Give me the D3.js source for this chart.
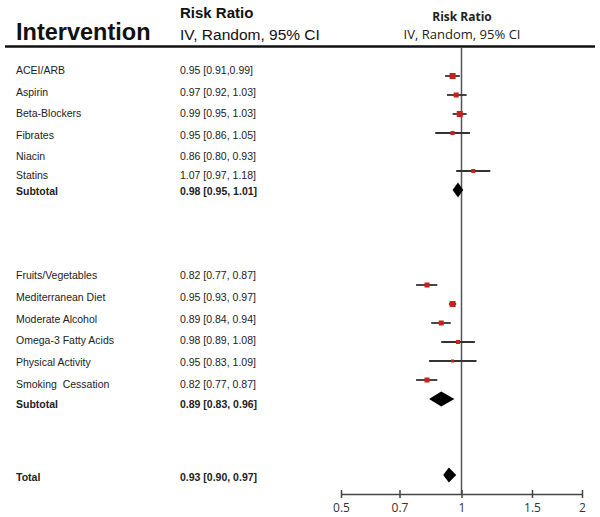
<!DOCTYPE html>
<html><head><meta charset="utf-8">
<script src="https://cdn.jsdelivr.net/npm/d3@7"></script>
<style>body{margin:0;background:#fff}svg{display:block}text{white-space:pre}</style>
</head><body><svg id="c" width="600" height="517"></svg>
<script>
// ---- data ----
const labels = ["ACEI/ARB","Aspirin","Beta-Blockers","Fibrates","Niacin","Statins","Subtotal",
  "Fruits/Vegetables","Mediterranean Diet","Moderate Alcohol","Omega-3 Fatty Acids","Physical Activity","Smoking  Cessation","Subtotal",
  "Total"];
const estimates = [0.95,0.97,0.99,0.95,0.86,1.07,0.98, 0.82,0.95,0.89,0.98,0.95,0.82,0.89, 0.93];
const lower     = [0.91,0.92,0.95,0.86,0.80,0.97,0.95, 0.77,0.93,0.84,0.89,0.83,0.77,0.83, 0.90];
const upper     = [0.99,1.03,1.03,1.05,0.93,1.18,1.01, 0.87,0.97,0.94,1.08,1.09,0.87,0.96, 0.97];
const ciText    = ["0.95 [0.91,0.99]","0.97 [0.92, 1.03]","0.99 [0.95, 1.03]","0.95 [0.86, 1.05]","0.86 [0.80, 0.93]","1.07 [0.97, 1.18]","0.98 [0.95, 1.01]",
  "0.82 [0.77, 0.87]","0.95 [0.93, 0.97]","0.89 [0.84, 0.94]","0.98 [0.89, 1.08]","0.95 [0.83, 1.09]","0.82 [0.77, 0.87]","0.89 [0.83, 0.96]",
  "0.93 [0.90, 0.97]"];
const rowKind   = ["study","study","study","study","study","study","pooled",
  "study","study","study","study","study","study","pooled","pooled"];
const weights   = [6,5,6,4,0,4,0, 5,6,5,4,3,5,0,0];   // relative marker weight
const plotted   = [1,1,1,1,0,1,1, 1,1,1,1,1,1,1,1];   // Niacin has no mark in the figure
const rowIndex  = [0,1,2,3,4,5,6, 11,12,13,14,15,16,17, 21];
const tickValues = [0.5,0.7,1,1.5,2];
const tickLabels = ["0.5","0.7","1","1.5","2"];

// ---- layout ----
const svg = d3.select("#c");
const x = d3.scaleLog().domain([0.5,2]).range([341,582]);
const yPlot = d3.scaleLinear().domain([0,21]).range([76,475]);
const yText = d3.scaleLinear().domain([0,4,5,6,11,15,16,17,21]).range([74,160,179,195,279,366,388,408,481]);
const sizeScale = d3.scaleLinear().domain([3,6]).range([3,6]);

const rows = labels.map((l,i)=>({label:l,est:estimates[i],lo:lower[i],hi:upper[i],txt:ciText[i],
  kind:rowKind[i],w:weights[i],show:plotted[i],idx:rowIndex[i]}));

// headers
svg.append("text").attr("x",16).attr("y",40).text("Intervention")
  .attr("font-family","Liberation Sans, Arial").attr("font-weight","bold").attr("font-size",23.5).attr("fill","#111");
svg.append("text").attr("x",180).attr("y",18).text("Risk Ratio")
  .attr("font-family","Liberation Sans, Arial").attr("font-weight","bold").attr("font-size",15).attr("fill","#111");
svg.append("text").attr("x",180).attr("y",40).text("IV, Random, 95% CI")
  .attr("font-family","Liberation Sans, Arial").attr("font-size",15.5).attr("fill","#111");
svg.append("text").attr("x",462).attr("y",21).attr("text-anchor","middle").text("Risk Ratio")
  .attr("font-family","Open Sans").attr("font-weight","bold").attr("font-size",12).attr("fill","#222");
svg.append("text").attr("x",462).attr("y",39).attr("text-anchor","middle").text("IV, Random, 95% CI")
  .attr("font-family","Open Sans").attr("font-size",12).attr("fill","#222").attr("textLength",117).attr("lengthAdjust","spacingAndGlyphs");
svg.append("line").attr("x1",5).attr("x2",595).attr("y1",46.5).attr("y2",46.5).attr("stroke","#111").attr("stroke-width",2.5);

// null line
svg.append("line").attr("x1",x(1)).attr("x2",x(1)).attr("y1",48).attr("y2",494)
  .attr("stroke","#555").attr("stroke-width",1.5);

// left text
const tg = svg.append("g").attr("font-family","Liberation Sans, Arial").attr("font-size",10.5).attr("fill","#222");
tg.selectAll("text.l").data(rows).join("text").attr("class","l")
  .attr("x",16).attr("y",d=>yText(d.idx)).text(d=>d.label)
  .attr("font-weight",d=>d.kind==="pooled"?"bold":"normal");
tg.selectAll("text.v").data(rows).join("text").attr("class","v")
  .attr("x",180).attr("y",d=>yText(d.idx)).text(d=>d.txt)
  .attr("font-weight",d=>d.kind==="pooled"?"bold":"normal");

// study marks
const studies = rows.filter(d=>d.kind==="study" && d.show);
svg.append("g").selectAll("line").data(studies).join("line")
  .attr("x1",d=>x(d.lo)).attr("x2",d=>x(d.hi)).attr("y1",d=>yPlot(d.idx)).attr("y2",d=>yPlot(d.idx))
  .attr("stroke","#333").attr("stroke-width",1.8);
svg.append("g").selectAll("rect").data(studies).join("rect")
  .attr("x",d=>x(d.est)-sizeScale(d.w)/2).attr("y",d=>yPlot(d.idx)-sizeScale(d.w)/2)
  .attr("width",d=>sizeScale(d.w)).attr("height",d=>sizeScale(d.w)).attr("fill","#c8201a");

// diamonds
const pooled = rows.filter(d=>d.kind==="pooled");
svg.append("g").selectAll("path").data(pooled).join("path")
  .attr("d",d=>{const y=yPlot(d.idx),h=7.5;return `M${x(d.lo)},${y}L${x(d.est)},${y-h}L${x(d.hi)},${y}L${x(d.est)},${y+h}Z`;})
  .attr("fill","#000");

// axis
const ax = svg.append("g").attr("transform","translate(0,494)")
  .call(d3.axisBottom(x).tickValues(tickValues).tickFormat((d,i)=>tickLabels[i]).tickSize(0));
ax.select(".domain").attr("stroke","#444").attr("stroke-width",1.5);
ax.selectAll(".tick line").attr("y1",-4).attr("y2",4).attr("stroke","#444").attr("stroke-width",1.5);
ax.selectAll(".tick text").attr("y",9).attr("font-family","Open Sans").attr("font-size",12).attr("fill","#333");
</script></body></html>
